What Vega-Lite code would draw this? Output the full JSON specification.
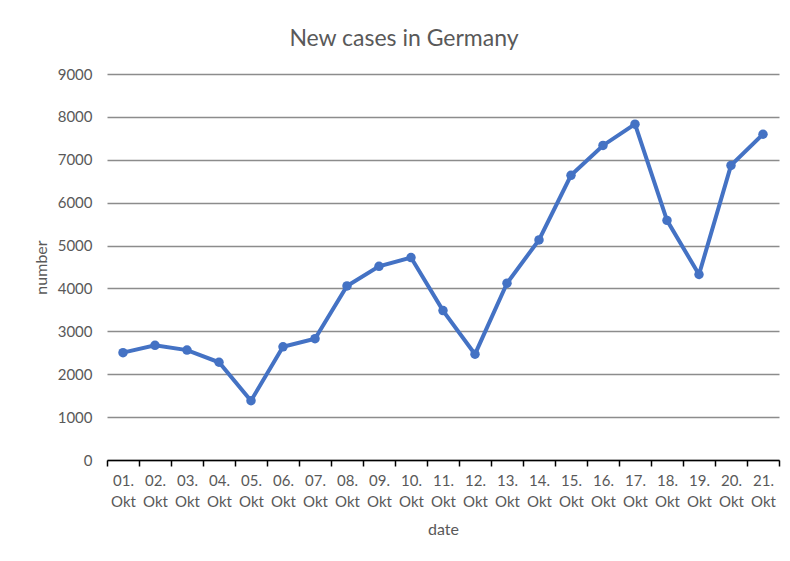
{
  "$schema": "https://vega.github.io/schema/vega-lite/v6.json",
  "width": 672,
  "height": 386,
  "autosize": {"type": "none"},
  "padding": {"left": 107, "top": 74, "right": 11, "bottom": 101},
  "background": "white",
  "title": {
    "text": "New cases in Germany",
    "font": "Lato",
    "fontSize": 23,
    "fontWeight": "normal",
    "color": "#595959",
    "anchor": "middle",
    "frame": "group",
    "dx": -39,
    "offset": 16
  },
  "config": {
    "view": {"stroke": null},
    "axis": {
      "labelFont": "Lato",
      "titleFont": "Lato",
      "labelColor": "#595959",
      "titleColor": "#595959",
      "labelFontSize": 15,
      "titleFontSize": 16,
      "titleFontWeight": "normal"
    }
  },
  "data": {
    "values": [
      {"date": "01. Okt", "number": 2503},
      {"date": "02. Okt", "number": 2673},
      {"date": "03. Okt", "number": 2563},
      {"date": "04. Okt", "number": 2279},
      {"date": "05. Okt", "number": 1382},
      {"date": "06. Okt", "number": 2639},
      {"date": "07. Okt", "number": 2828},
      {"date": "08. Okt", "number": 4058},
      {"date": "09. Okt", "number": 4516},
      {"date": "10. Okt", "number": 4721},
      {"date": "11. Okt", "number": 3483},
      {"date": "12. Okt", "number": 2467},
      {"date": "13. Okt", "number": 4122},
      {"date": "14. Okt", "number": 5132},
      {"date": "15. Okt", "number": 6638},
      {"date": "16. Okt", "number": 7334},
      {"date": "17. Okt", "number": 7830},
      {"date": "18. Okt", "number": 5587},
      {"date": "19. Okt", "number": 4325},
      {"date": "20. Okt", "number": 6868},
      {"date": "21. Okt", "number": 7595}
    ]
  },
  "mark": {
    "type": "line",
    "color": "#4472C4",
    "strokeWidth": 4,
    "point": {"filled": true, "size": 90, "color": "#4472C4"}
  },
  "encoding": {
    "x": {
      "field": "date",
      "type": "ordinal",
      "sort": null,
      "scale": {"type": "band", "paddingInner": 0, "paddingOuter": 0},
      "axis": {
        "title": "date",
        "labelAngle": 0,
        "labelExpr": "split(datum.label, ' ')",
        "labelLineHeight": 21,
        "labelPadding": 7,
        "labelBaseline": "top",
        "titlePadding": 12,
        "domainColor": "#000000",
        "domainWidth": 1.5,
        "tickColor": "#000000",
        "tickWidth": 1.5,
        "tickSize": 6,
        "tickBand": "extent",
        "grid": false
      }
    },
    "y": {
      "field": "number",
      "type": "quantitative",
      "scale": {"domain": [0, 9000], "nice": false},
      "axis": {
        "title": "number",
        "values": [0, 1000, 2000, 3000, 4000, 5000, 6000, 7000, 8000, 9000],
        "format": "d",
        "domain": false,
        "ticks": false,
        "labelPadding": 15,
        "titlePadding": 8,
        "gridColor": "#8c8c8c",
        "gridWidth": 1.3
      }
    }
  }
}
